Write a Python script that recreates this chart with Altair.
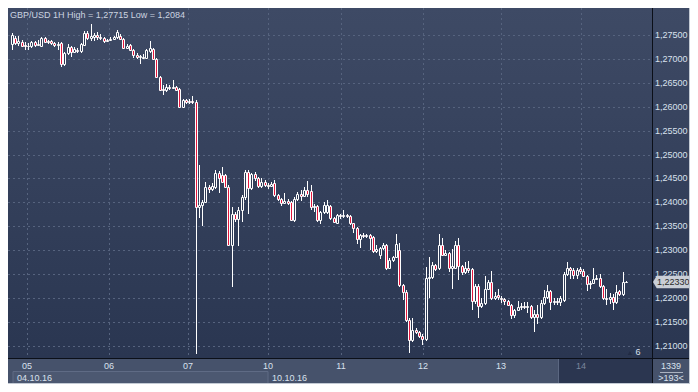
import altair as alt
import pandas as pd

# ---------------- data ----------------
FIRST_INDEX = -5  # hourly candle index, 0 = 05.10 00:00

open_prices = [
    1.2730, 1.2744, 1.2733, 1.2736, 1.2728, 1.2727, 1.2726, 1.2734, 1.2729, 1.2727,
    1.2744, 1.2735, 1.2738, 1.2732, 1.2729, 1.2733, 1.2689, 1.2712, 1.2725, 1.2714,
    1.2719, 1.2716, 1.2729, 1.2754, 1.2744, 1.2746, 1.2750, 1.2746, 1.2744, 1.2737,
    1.2739, 1.2742, 1.2745, 1.2748, 1.2742, 1.2723, 1.2729, 1.2719, 1.2708, 1.2704,
    1.2702, 1.2702, 1.2717, 1.2721, 1.2700, 1.2662, 1.2637, 1.2635, 1.2641, 1.2639,
    1.2641, 1.2637, 1.2600, 1.2614, 1.2610, 1.2612, 1.2610, 1.2390, 1.2395, 1.2400,
    1.2433, 1.2428, 1.2433, 1.2462, 1.2457, 1.2457, 1.2433, 1.2312, 1.2375, 1.2366,
    1.2385, 1.2412, 1.2464, 1.2430, 1.2460, 1.2450, 1.2435, 1.2443, 1.2437, 1.2435,
    1.2441, 1.2416, 1.2408, 1.2398, 1.2403, 1.2400, 1.2364, 1.2408, 1.2418, 1.2414,
    1.2426, 1.2424, 1.2390, 1.2392, 1.2364, 1.2379, 1.2380, 1.2392, 1.2368, 1.2358,
    1.2373, 1.2371, 1.2373, 1.2371, 1.2356, 1.2346, 1.2323, 1.2331, 1.2329, 1.2331,
    1.2327, 1.2298, 1.2291, 1.2304, 1.2312, 1.2264, 1.2279, 1.2285, 1.2300, 1.2227,
    1.2213, 1.2154, 1.2112, 1.2133, 1.2129, 1.2121, 1.2114, 1.2242, 1.2244, 1.2270,
    1.2262, 1.2310, 1.2291, 1.2294, 1.2264, 1.2264, 1.2312, 1.2268, 1.2254, 1.2262,
    1.2260, 1.2194, 1.2225, 1.2183, 1.2189, 1.2219, 1.2233, 1.2200, 1.2206, 1.2200,
    1.2198, 1.2194, 1.2185, 1.2164, 1.2175, 1.2181, 1.2183, 1.2181, 1.2183, 1.2160,
    1.2166, 1.2160, 1.2189, 1.2202, 1.2214, 1.2191, 1.2194, 1.2191, 1.2196, 1.2250,
    1.2264, 1.2258, 1.2248, 1.2260, 1.2256, 1.2246, 1.2229, 1.2231, 1.2241, 1.2243,
    1.2225, 1.2200, 1.2198, 1.2202, 1.2191, 1.2214, 1.2208, 1.2233,
]
high_prices = [
    1.2754, 1.2748, 1.2748, 1.2740, 1.2735, 1.2733, 1.2737, 1.2737, 1.2740, 1.2746,
    1.2746, 1.2740, 1.2740, 1.2735, 1.2735, 1.2735, 1.2714, 1.2731, 1.2727, 1.2725,
    1.2723, 1.2733, 1.2758, 1.2758, 1.2772, 1.2754, 1.2756, 1.2752, 1.2746, 1.2742,
    1.2746, 1.2748, 1.2760, 1.2752, 1.2744, 1.2731, 1.2731, 1.2721, 1.2712, 1.2708,
    1.2710, 1.2721, 1.2737, 1.2723, 1.2702, 1.2664, 1.2646, 1.2648, 1.2646, 1.2656,
    1.2643, 1.2639, 1.2616, 1.2616, 1.2616, 1.2623, 1.2614, 1.2479, 1.2405, 1.2443,
    1.2437, 1.2441, 1.2468, 1.2466, 1.2474, 1.2460, 1.2437, 1.2391, 1.2380, 1.2390,
    1.2416, 1.2468, 1.2468, 1.2462, 1.2464, 1.2452, 1.2450, 1.2447, 1.2441, 1.2443,
    1.2447, 1.2418, 1.2410, 1.2420, 1.2407, 1.2403, 1.2412, 1.2422, 1.2426, 1.2432,
    1.2445, 1.2437, 1.2396, 1.2394, 1.2383, 1.2400, 1.2405, 1.2394, 1.2370, 1.2375,
    1.2375, 1.2385, 1.2375, 1.2373, 1.2358, 1.2348, 1.2333, 1.2337, 1.2335, 1.2333,
    1.2329, 1.2310, 1.2306, 1.2316, 1.2314, 1.2283, 1.2289, 1.2333, 1.2316, 1.2229,
    1.2217, 1.2158, 1.2158, 1.2137, 1.2131, 1.2125, 1.2265, 1.2285, 1.2275, 1.2272,
    1.2333, 1.2325, 1.2300, 1.2296, 1.2302, 1.2320, 1.2325, 1.2270, 1.2275, 1.2277,
    1.2262, 1.2229, 1.2229, 1.2200, 1.2246, 1.2237, 1.2256, 1.2212, 1.2219, 1.2204,
    1.2200, 1.2196, 1.2187, 1.2177, 1.2194, 1.2189, 1.2192, 1.2192, 1.2185, 1.2175,
    1.2185, 1.2196, 1.2216, 1.2227, 1.2216, 1.2200, 1.2200, 1.2204, 1.2254, 1.2275,
    1.2266, 1.2262, 1.2262, 1.2266, 1.2260, 1.2248, 1.2235, 1.2264, 1.2248, 1.2250,
    1.2227, 1.2219, 1.2210, 1.2208, 1.2227, 1.2216, 1.2254, 1.2235,
]
low_prices = [
    1.2719, 1.2728, 1.2727, 1.2724, 1.2719, 1.2719, 1.2723, 1.2725, 1.2727, 1.2725,
    1.2733, 1.2731, 1.2729, 1.2725, 1.2719, 1.2683, 1.2685, 1.2708, 1.2704, 1.2712,
    1.2712, 1.2712, 1.2727, 1.2740, 1.2737, 1.2737, 1.2740, 1.2740, 1.2733, 1.2735,
    1.2737, 1.2740, 1.2742, 1.2740, 1.2721, 1.2721, 1.2717, 1.2702, 1.2700, 1.2690,
    1.2700, 1.2700, 1.2712, 1.2698, 1.2660, 1.2633, 1.2625, 1.2630, 1.2635, 1.2637,
    1.2633, 1.2598, 1.2598, 1.2606, 1.2606, 1.2606, 1.2084, 1.2368, 1.2350, 1.2398,
    1.2420, 1.2424, 1.2428, 1.2420, 1.2440, 1.2430, 1.2308, 1.2223, 1.2360, 1.2308,
    1.2360, 1.2405, 1.2375, 1.2425, 1.2445, 1.2430, 1.2430, 1.2433, 1.2428, 1.2433,
    1.2412, 1.2403, 1.2392, 1.2396, 1.2394, 1.2362, 1.2360, 1.2403, 1.2403, 1.2412,
    1.2412, 1.2385, 1.2380, 1.2360, 1.2354, 1.2375, 1.2375, 1.2364, 1.2356, 1.2354,
    1.2366, 1.2368, 1.2368, 1.2352, 1.2337, 1.2314, 1.2304, 1.2325, 1.2325, 1.2300,
    1.2294, 1.2294, 1.2281, 1.2300, 1.2258, 1.2260, 1.2275, 1.2283, 1.2223, 1.2196,
    1.2150, 1.2086, 1.2108, 1.2125, 1.2116, 1.2102, 1.2110, 1.2200, 1.2240, 1.2256,
    1.2258, 1.2287, 1.2289, 1.2254, 1.2220, 1.2260, 1.2237, 1.2248, 1.2250, 1.2252,
    1.2175, 1.2187, 1.2158, 1.2179, 1.2185, 1.2217, 1.2196, 1.2196, 1.2196, 1.2190,
    1.2185, 1.2183, 1.2156, 1.2158, 1.2173, 1.2175, 1.2177, 1.2170, 1.2156, 1.2129,
    1.2145, 1.2156, 1.2185, 1.2198, 1.2175, 1.2185, 1.2185, 1.2183, 1.2192, 1.2246,
    1.2241, 1.2241, 1.2241, 1.2250, 1.2244, 1.2215, 1.2220, 1.2229, 1.2237, 1.2221,
    1.2196, 1.2185, 1.2187, 1.2175, 1.2187, 1.2204, 1.2204, 1.2231,
]
close_prices = [
    1.2750, 1.2733, 1.2737, 1.2727, 1.2727, 1.2726, 1.2735, 1.2729, 1.2731, 1.2744,
    1.2735, 1.2738, 1.2732, 1.2729, 1.2731, 1.2689, 1.2712, 1.2725, 1.2714, 1.2721,
    1.2716, 1.2731, 1.2754, 1.2744, 1.2748, 1.2750, 1.2746, 1.2744, 1.2737, 1.2739,
    1.2742, 1.2745, 1.2756, 1.2742, 1.2723, 1.2727, 1.2719, 1.2708, 1.2704, 1.2706,
    1.2704, 1.2719, 1.2723, 1.2700, 1.2662, 1.2635, 1.2635, 1.2641, 1.2639, 1.2641,
    1.2635, 1.2600, 1.2614, 1.2610, 1.2612, 1.2610, 1.2390, 1.2395, 1.2400, 1.2433,
    1.2428, 1.2435, 1.2462, 1.2450, 1.2443, 1.2433, 1.2312, 1.2375, 1.2366, 1.2385,
    1.2412, 1.2464, 1.2430, 1.2460, 1.2450, 1.2435, 1.2443, 1.2437, 1.2435, 1.2439,
    1.2416, 1.2408, 1.2398, 1.2403, 1.2398, 1.2364, 1.2408, 1.2418, 1.2414, 1.2426,
    1.2418, 1.2390, 1.2392, 1.2364, 1.2379, 1.2394, 1.2394, 1.2368, 1.2360, 1.2373,
    1.2371, 1.2373, 1.2371, 1.2356, 1.2346, 1.2323, 1.2331, 1.2329, 1.2331, 1.2325,
    1.2298, 1.2302, 1.2304, 1.2312, 1.2264, 1.2279, 1.2285, 1.2314, 1.2227, 1.2213,
    1.2154, 1.2112, 1.2133, 1.2129, 1.2121, 1.2114, 1.2242, 1.2244, 1.2270, 1.2260,
    1.2310, 1.2291, 1.2295, 1.2264, 1.2267, 1.2312, 1.2268, 1.2254, 1.2262, 1.2258,
    1.2194, 1.2225, 1.2183, 1.2189, 1.2219, 1.2233, 1.2200, 1.2204, 1.2202, 1.2198,
    1.2194, 1.2185, 1.2164, 1.2175, 1.2181, 1.2183, 1.2181, 1.2183, 1.2160, 1.2166,
    1.2160, 1.2189, 1.2202, 1.2214, 1.2191, 1.2194, 1.2191, 1.2200, 1.2250, 1.2264,
    1.2258, 1.2248, 1.2258, 1.2256, 1.2246, 1.2229, 1.2231, 1.2241, 1.2243, 1.2225,
    1.2200, 1.2198, 1.2202, 1.2191, 1.2212, 1.2208, 1.2233, 1.2233,
]

price_ticks = [1.210, 1.215, 1.220, 1.225, 1.230, 1.235, 1.240,
               1.245, 1.250, 1.255, 1.260, 1.265, 1.270, 1.275]
day_labels = ["05", "06", "07", "10", "11", "12", "13", "14"]
day_index = [-0.4, 24.5, 48.7, 73.0, 95.2, 120.1, 144.0, 168.3]
session_labels = ["04.10.16", "10.10.16"]
session_index = [-4.6, 73.0]
last_price = 1.22330
title_text = "GBP/USD 1H High = 1,27715 Low = 1,2084"
counter_top = "1339"
counter_bottom = ">193<"
volume_marker = "6"

# ---------------- layout ----------------
W, H = 644, 350          # plot area
PR, PB = 38, 26          # right price panel, bottom time panel
FW, FH = W + PR, H + PB
FONT = "Liberation Sans, Arial, sans-serif"
TXT = "#d9e1ee"

xs = alt.Scale(domain=[-4.6, 188.4], nice=False, zero=False, round=True)
ys = alt.Scale(domain=[1.2075, 1.2806], nice=False, zero=False, round=True)

n = len(open_prices)
candles = pd.DataFrame({
    "i": list(range(FIRST_INDEX, FIRST_INDEX + n)),
    "open": open_prices, "high": high_prices,
    "low": low_prices, "close": close_prices,
})
candles["dir"] = ["up" if c >= o else "down" for o, c in zip(open_prices, close_prices)]

one = pd.DataFrame({"k": [0]})


def X(f):
    return alt.X(f, type="quantitative", scale=xs, axis=None)


def Y(f):
    return alt.Y(f, type="quantitative", scale=ys, axis=None)


def box(x1, x2, y1, y2, **mk):
    return alt.Chart(one).mark_rect(**mk).encode(
        x=alt.value(x1), x2=alt.value(x2), y=alt.value(y1), y2=alt.value(y2))


def hline(y, x1, x2, color, w=1):
    return alt.Chart(one).mark_rule(color=color, strokeWidth=w).encode(
        x=alt.value(x1), x2=alt.value(x2), y=alt.value(y))


def vline(x, y1, y2, color, w=1):
    return alt.Chart(one).mark_rule(color=color, strokeWidth=w).encode(
        x=alt.value(x), y=alt.value(y1), y2=alt.value(y2))


def label(text, x, y, color=TXT, align="left", size=9):
    return alt.Chart(one).mark_text(
        text=text, font=FONT, fontSize=size, baseline="middle", align=align, color=color
    ).encode(x=alt.value(x), y=alt.value(y))


bg_grad = alt.LinearGradient(
    gradient="linear",
    stops=[alt.GradientStop(color="#3e4a65", offset=0),
           alt.GradientStop(color="#2a3651", offset=1)],
    x1=0, x2=0, y1=0, y2=1,
)

bg = box(0, FW, 0, H, color=bg_grad)

hgrid = alt.Chart(pd.DataFrame({"p": price_ticks})).mark_rule(
    color="#56637e", strokeDash=[2, 3], strokeWidth=1, yOffset=0.5
).encode(y=Y("p"), x=alt.value(0), x2=alt.value(W))

days = pd.DataFrame({"d": day_index, "t": day_labels})
vgrid = alt.Chart(days).mark_rule(
    color="#56637e", strokeDash=[2, 3], strokeWidth=1, xOffset=0.5
).encode(x=X("d"), y=alt.value(0), y2=alt.value(H))

wicks = alt.Chart(candles).mark_rule(
    color="#ffffff", strokeWidth=1, xOffset=0.5, clip=True
).encode(x=X("i"), y=Y("low"), y2=alt.Y2("high"))

bodies = alt.Chart(candles).mark_bar(
    width=2, stroke="#ffffff", strokeWidth=1, xOffset=0.5, yOffset=0.5, y2Offset=0.5, clip=True
).encode(
    x=X("i"), y=Y("open"), y2=alt.Y2("close"),
    fill=alt.Fill("dir:N", scale=alt.Scale(domain=["up", "down"], range=["#2f3b56", "#e3173d"]),
                  legend=None),
)

# bottom panel pieces
sess = pd.DataFrame({"s": session_index, "t": session_labels})
date_box = alt.Chart(sess.head(1).assign(e=[session_index[1]])).mark_rect(
    fill="#4c5871", stroke="#5f6b85", strokeWidth=1
).encode(x=X("s"), x2=alt.X2("e"), y=alt.value(363.5), y2=alt.value(376))
scroll_box = box(551, W, H, FH, color="#2b3650")
scroll_edge = vline(550.5, H, FH, "#5b6781")

day_text = alt.Chart(days).mark_text(font=FONT, fontSize=9, baseline="middle", align="center").encode(
    x=X("d"), y=alt.value(357.5), text="t:N",
    color=alt.condition(alt.datum.d >= 168, alt.value("#7b879d"), alt.value(TXT)),
)
sess_text = alt.Chart(sess).mark_text(
    font=FONT, fontSize=9, baseline="middle", align="left", dx=4, color=TXT
).encode(x=X("s"), y=alt.value(370), text="t:N")

# right panel pieces
price_text = alt.Chart(pd.DataFrame({"p": price_ticks})).transform_calculate(
    lab="replace(format(datum.p, '.5f'), '.', ',')"
).mark_text(font=FONT, fontSize=9, baseline="middle", align="left", color=TXT).encode(
    y=Y("p"), x=alt.value(W + 3), text="lab:N")

tag_path = "M-1,0 L-0.8,-0.34 L1,-0.34 L1,0.34 L-0.8,0.34 Z"
lastdf = pd.DataFrame({"p": [last_price]})
tag = alt.Chart(lastdf).mark_point(
    shape=tag_path, filled=True, size=37 * 37, color="#c9ced6", opacity=1, strokeWidth=0
).encode(y=Y("p"), x=alt.value(FW - 18.5))
tag_text = alt.Chart(lastdf).transform_calculate(
    lab="replace(format(datum.p, '.5f'), '.', ',')"
).mark_text(font=FONT, fontSize=9, baseline="middle", align="left", color="#2a2a2a").encode(
    y=Y("p"), x=alt.value(W + 5), text="lab:N")

marker_tri = alt.Chart(one).mark_point(
    shape="triangle-up", filled=True, size=22, color="#222c44", opacity=1
).encode(x=alt.value(622), y=alt.value(345))

layers = [
    bg, hgrid, vgrid, wicks, bodies,
    date_box, scroll_box, scroll_edge, day_text, sess_text,
    price_text, tag, tag_text,
    hline(H + 0.5, 0, FW, "#0b0f18"),
    vline(W + 0.5, 0, FH, "#0b0f18"),
    vline(FW - 0.5, 0, FH, "#c3cad4"),
    hline(FH - 0.5, 0, FW, "#c3cad4"),
    label(counter_top, W + 19, 357.5, align="center"),
    hline(364.5, W + 8, W + 31, "#aab2c0"),
    label(counter_bottom, W + 19, 370, align="center"),
    label(title_text, 2, 7, color="#ccd4e0"),
    marker_tri,
    label(volume_marker, 630, 344, align="center"),
]

chart = alt.layer(*layers).properties(
    width=W, height=H,
    padding={"left": 0, "top": 0, "right": PR, "bottom": PB},
    autosize=alt.AutoSizeParams(type="none"),
    background="#46526b",
).configure_view(stroke=None)

chart.save("out.html", embed_options={"renderer": "svg", "actions": False})
